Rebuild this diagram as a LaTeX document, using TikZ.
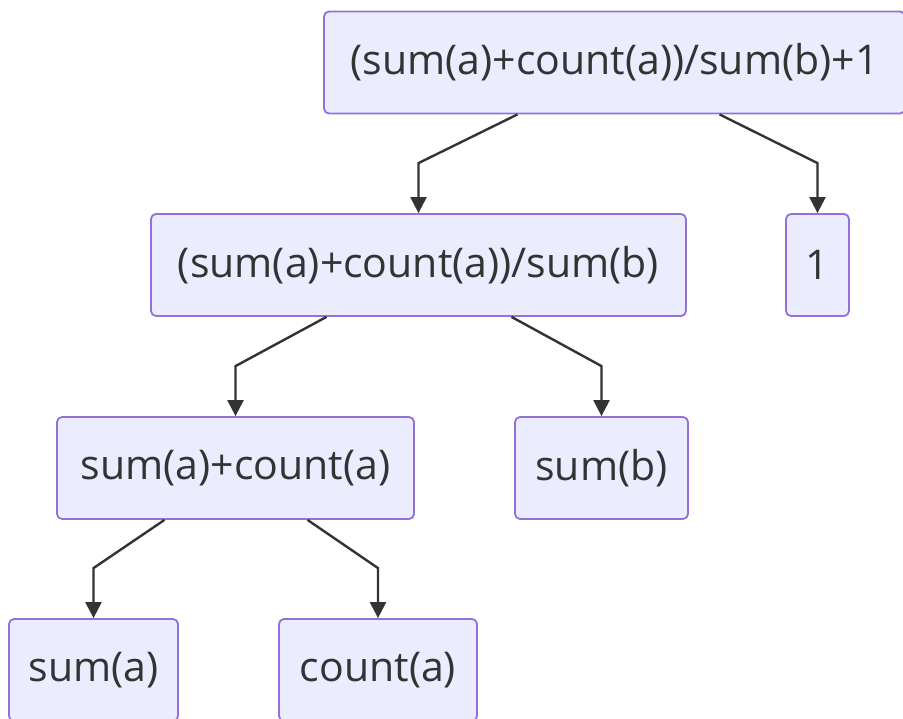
\documentclass[tikz,border=0pt]{standalone}
\usepackage{fontspec}
\setmainfont{Open Sans}
\usepackage{tikz}
\usetikzlibrary{arrows.meta}
\definecolor{boxfill}{HTML}{ECECFF}
\definecolor{boxline}{HTML}{9370DB}
\definecolor{ink}{HTML}{333333}
\tikzset{
  expr/.style={
    rectangle, rounded corners=5pt,
    draw=boxline, fill=boxfill, line width=1.8pt,
    minimum height=102pt, inner sep=0pt,
    text=ink, font=\fontsize{41}{48}\selectfont,
  },
  arrow/.style={-{Triangle[length=16pt,width=16pt]}, line width=2.4pt, ink},
}
\begin{document}
\begin{tikzpicture}[x=1pt, y=-1pt]
  \useasboundingbox (0,0) rectangle (903,719);

  % Expression tree
  \node[expr, minimum width=581pt] (top)    at (614.5,62.5) {(sum(a)+count(a))/sum(b)+1};
  \node[expr, minimum width=535pt] (mid)    at (418.5,265)  {(sum(a)+count(a))/sum(b)};
  \node[expr, minimum width=63pt]  (one)    at (817.5,265)  {1};
  \node[expr, minimum width=357pt] (saca)   at (235.5,468)  {sum(a)+count(a)};
  \node[expr, minimum width=173pt] (sumb)   at (601.5,468)  {sum(b)};
  \node[expr, minimum width=169pt] (suma)   at (93.5,670)   {sum(a)};
  \node[expr, minimum width=198pt] (counta) at (378,670)    {count(a)};

  % Arrows from parent to child
  \foreach \from/\off/\to in {
    top/-97/mid, top/105/one, mid/-92/saca,
    mid/93/sumb, saca/-71/suma, saca/72/counta}
    \draw[arrow] ([xshift=\off pt]\from.south) -- ([yshift=50pt]\to.north) -- (\to.north);

\end{tikzpicture}
\end{document}
